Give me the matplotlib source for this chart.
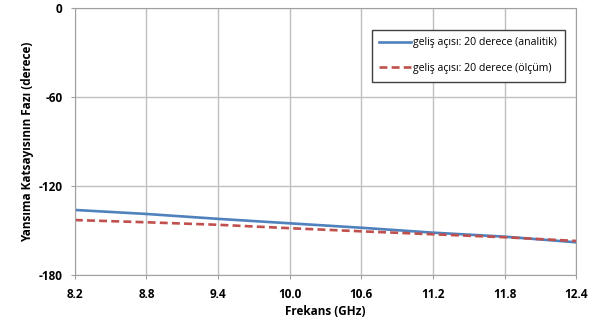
import matplotlib.pyplot as plt

# Veriler (grafikten okunan yaklaşık değerler)
frekans = [8.2, 8.8, 9.4, 10.0, 10.6, 11.2, 11.8, 12.4]
analitik = [-136.0, -138.7, -142.0, -145.0, -148.0, -151.3, -154.0, -157.8]
olcum = [-142.8, -144.3, -146.0, -148.3, -150.4, -152.4, -154.4, -156.9]

x_ticks = [8.2, 8.8, 9.4, 10.0, 10.6, 11.2, 11.8, 12.4]
y_ticks = [0, -60, -120, -180]

plt.rcParams['font.family'] = ['Open Sans', 'DejaVu Sans']

fig = plt.figure(figsize=(5.99, 3.30), dpi=100)
ax = fig.add_axes([0.125, 0.166, 0.837, 0.809])

ax.plot(frekans, analitik, color="#4F81BD", lw=1.9,
        label="geliş açısı: 20 derece (analitik)")
ax.plot(frekans, olcum, color="#C0504D", lw=1.9, ls=(0, (3, 1.6)),
        label="geliş açısı: 20 derece (ölçüm)")

ax.set_xlim(8.2, 12.4)
ax.set_ylim(-180, 0)
ax.set_xticks(x_ticks)
ax.set_xticklabels([f"{v:.1f}" for v in x_ticks], fontsize=8.5, fontweight="bold")
ax.set_yticks(y_ticks)
ax.set_yticklabels([str(v) for v in y_ticks], fontsize=8.5, fontweight="bold")
ax.tick_params(axis="both", length=3, color="#A0A0A0", pad=6)
ax.grid(True, color="#BFBFBF", lw=1.0)
for s in ax.spines.values():
    s.set_color("#A0A0A0")

ax.set_xlabel("Frekans (GHz)", fontsize=8.5, fontweight="bold", labelpad=3)
ax.set_ylabel("Yansıma Katsayısının Fazı (derece)", fontsize=8.5, fontweight="bold", labelpad=3)

leg = ax.legend(loc="upper right", bbox_to_anchor=(0.988, 0.94), fontsize=7.6,
                handlelength=3.0, handletextpad=0.2, labelspacing=1.35,
                fancybox=False, framealpha=1, borderpad=0.75)
leg.get_frame().set_edgecolor("#404040")
leg.get_frame().set_linewidth(1.0)

fig.savefig("out.png", dpi=100)
